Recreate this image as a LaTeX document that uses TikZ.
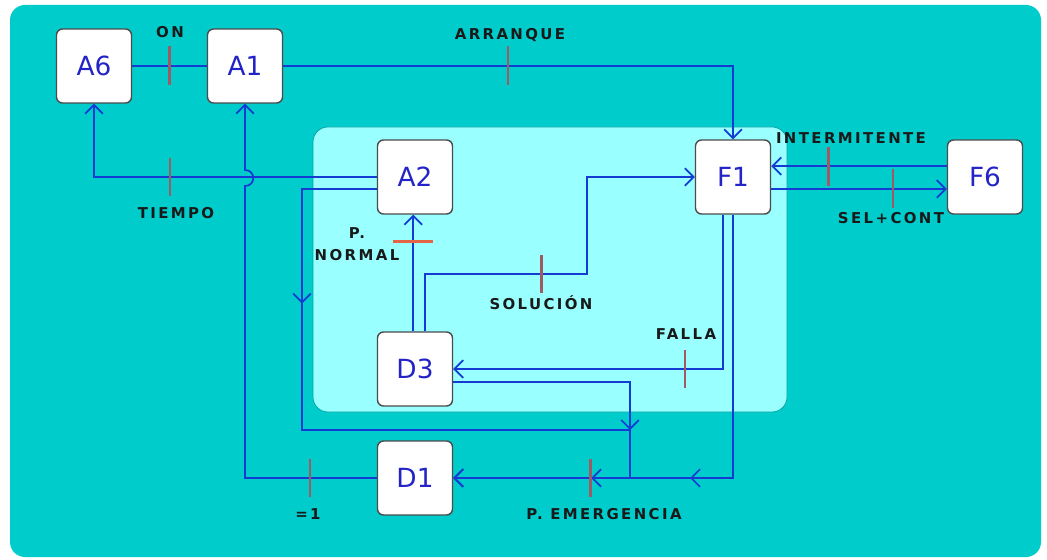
\documentclass[tikz,border=0pt]{standalone}
\usepackage{fontspec}
\usetikzlibrary{arrows.meta, decorations.markings}

\newfontfamily\boxfont{DejaVu Sans}
\newfontfamily\lblfont[LetterSpace=16]{DejaVu Sans Bold}
\newcommand{\boxtxt}{\boxfont\fontsize{15}{18}\selectfont}
\newcommand{\lbltxt}{\lblfont\fontsize{8.5}{12.5}\selectfont}

\definecolor{panel}{RGB}{0,204,204}
\definecolor{innerbg}{RGB}{153,255,255}
\definecolor{flowblue}{RGB}{20,60,210}
\definecolor{boxblue}{RGB}{35,35,200}
\definecolor{tickred}{RGB}{160,90,100}
\definecolor{normred}{RGB}{230,100,70}

\tikzset{
  blk/.style={draw=black!70, fill=white, rounded corners=3.4pt, line width=0.8pt,
    minimum width=1.5cm, minimum height=1.48cm, inner sep=0pt, font=\boxtxt, text=boxblue},
  flow/.style={draw=flowblue, line width=1pt},
  tickv/.style={fill=tickred, inner sep=0pt, minimum width=1.4pt, minimum height=0.78cm},
  tickh/.style={fill=normred, inner sep=0pt, minimum width=0.8cm, minimum height=1.4pt},
  lbl/.style={font=\lbltxt, text=black!90, inner sep=1pt},
  midtip/.style={postaction={decorate, decoration={markings, mark=at position #1 with {\arrow{>}}}}}
}

\begin{document}
\begin{tikzpicture}[x=0.02cm, y=-0.02cm, >={Straight Barb[length=5pt,width=10pt]}]
  \useasboundingbox (0,0) rectangle (1047,560);
  \fill[white] (0,0) rectangle (1047,560);
  \fill[panel, rounded corners=0.3cm] (10,5) rectangle (1041,557);
  \filldraw[fill=innerbg, draw=panel!80!black, rounded corners=0.3cm] (313,127) rectangle (787,412);

  % blocks
  \node[blk] (A6) at (94,66) {A6};
  \node[blk] (A1) at (245,66) {A1};
  \node[blk] (A2) at (415,177) {A2};
  \node[blk] (F1) at (733,177) {F1};
  \node[blk] (F6) at (985,177) {F6};
  \node[blk] (D3) at (415,369) {D3};
  \node[blk] (D1) at (415,478) {D1};

  % bend points
  \coordinate (hopB) at (245,186);
  \coordinate (hopT) at (245,170);
  \coordinate (sol) at (587,274);
  \coordinate (lb) at (302,430);
  \coordinate (jn) at (630,430);
  \coordinate (jd) at (630,478);

  % transitions
  \draw[flow] (A6.east) -- node[tickv] (tON) {} (A1.west);
  \draw[flow, ->] (A1.east) -| node[tickv, pos=.25] (tARR) {} (F1.north);
  \draw[flow, ->] (A2.west) -| node[tickv, pos=.366] (tTIE) {} (A6.south);
  \draw[flow, ->] (D1.west) -| node[tickv, pos=.254] (tEQ) {} (hopB)
    .. controls +(11,0) and +(11,0) .. (hopT) -- (A1.south);
  \draw[flow, ->, midtip=.218] ([yshift=-6.8pt]A2.west) -| (lb) -| (jd) -- (D1.east);
  \draw[flow, ->] ([yshift=-7.4pt]D3.east) -| (jn);
  \draw[flow, ->] ([xshift=-1pt]D3.north) -- node[tickh, pos=.77] (tNOR) {} ([xshift=-1pt]A2.south);
  \draw[flow, ->] ([xshift=5.7pt]D3.north) |- node[tickv, pos=.86] (tSOL) {} (sol) |- (F1.west);
  \draw[flow, ->] ([xshift=-5.7pt]F1.south) |- node[tickv, pos=.57] (tFAL) {} (D3.east);
  \draw[flow, ->, midtip=.564, midtip=.746] (F1.south) |- node[tickv, pos=.755] (tEME) {} (D1.east);
  \draw[flow, ->] ([yshift=6.2pt]F6.west) -- node[tickv, pos=.675] (tINT) {} ([yshift=6.2pt]F1.east);
  \draw[flow, ->] ([yshift=-6.8pt]F1.east) -- node[tickv, pos=.692] (tSEL) {} ([yshift=-6.8pt]F6.west);

  % labels
  \node[lbl] (lON) at (170,32) {ON};
  \node[lbl] (lARR) at (510,35) {ARRANQUE};
  \node[lbl] (lTIE) at (176,213) {TIEMPO};
  \node[lbl, align=center] (lNOR) at (357,244) {P.\\NORMAL};
  \node[lbl] (lSOL) at (541,303) {SOLUCIÓN};
  \node[lbl] (lFAL) at (686,334) {FALLA};
  \node[lbl] (lINT) at (851,138) {INTERMITENTE};
  \node[lbl] (lSEL) at (891,218) {SEL+CONT};
  \node[lbl] (lEQ) at (308,514) {=1};
  \node[lbl] (lEME) at (604,514) {P. EMERGENCIA};
\end{tikzpicture}
\end{document}
